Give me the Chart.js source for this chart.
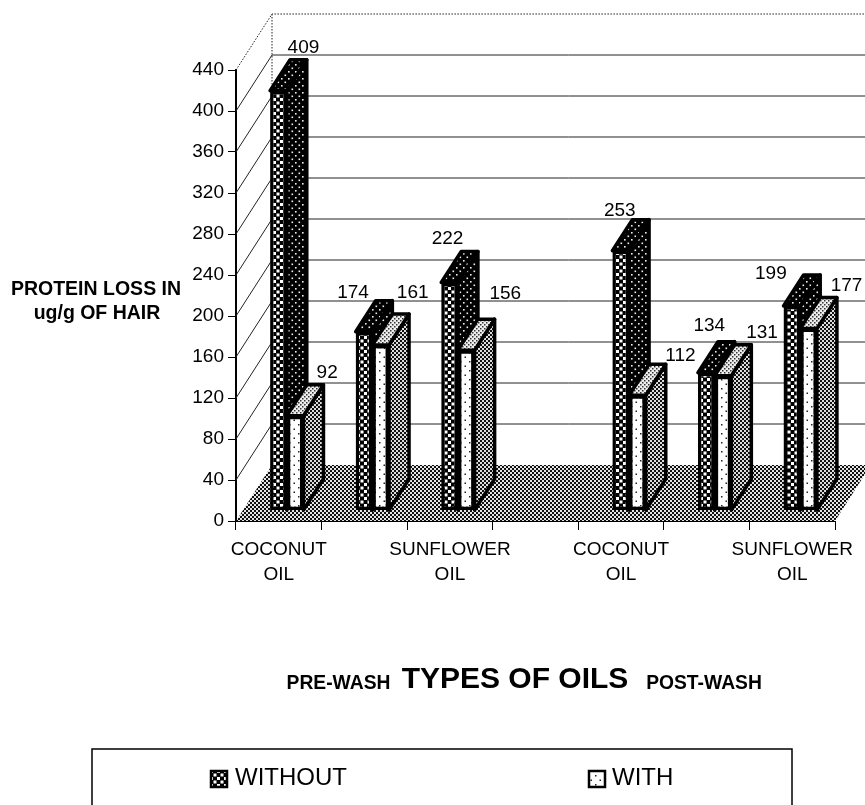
<!DOCTYPE html>
<html>
<head>
<meta charset="utf-8">
<title>Protein loss</title>
<script src="https://cdn.jsdelivr.net/npm/chart.js@4"></script>
<style>
    html, body { margin: 0; padding: 0; background: #fff; overflow: hidden; }
    canvas { display: block; }
</style>
</head>
<body>
<canvas id="grafica" width="865" height="805"></canvas>
<script>
// DATA
const categories = [["COCONUT", "OIL"], "", ["SUNFLOWER", "OIL"], "", ["COCONUT", "OIL"], "", ["SUNFLOWER", "OIL"]];
const withoutValues = [409, 174, 222, null, 253, 134, 199];
const withValues = [92, 161, 156, null, 112, 131, 177];
const yTicks = [0, 40, 80, 120, 160, 200, 240, 280, 320, 360, 400, 440];
const seriesNames = ["WITHOUT", "WITH"];

// how far each value label sits from its bar top
const withoutLabelShift = [[25, -43], [-11, -39], [-2, -44], null, [-1, -40], [3, -47], [-21, -32]];
const withLabelShift = [[32, -43], [32, -52], [39, -56], null, [43, -39], [39, -43], [38, -43]];

const FONT = '"Liberation Sans", Arial, sans-serif';
const WALL_X = 36, WALL_Y = 56;   // depth of the floor and side wall
const BAR_X = 20, BAR_Y = 31;     // depth of a bar
const BAR_SHIFT_X = 8;            // bars stand a bit back on the floor
const BAR_LIFT = 10.7;            // same thing in axis units

// small tiles for the printed patterns
function makePattern(size, bg, fg, dots) {
    const c = document.createElement('canvas');
    c.width = size; c.height = size;
    const g = c.getContext('2d');
    g.fillStyle = bg;
    g.fillRect(0, 0, size, size);
    g.fillStyle = fg;
    dots.forEach(d => g.fillRect(d[0], d[1], d[2], d[2]));
    return g.createPattern(c, 'repeat');
}

const darkFront = makePattern(7, '#000', '#fff', [[0, 0, 3], [3.5, 3.5, 3]]);
const darkSide = makePattern(7, '#000', '#eee', [[1, 1, 1.6], [4.5, 4.5, 1.6]]);
const lightFront = makePattern(9, '#fff', '#222', [[1, 1, 1.5], [5.5, 5.5, 1.5]]);
const lightTop = makePattern(4, '#eee', '#333', [[0, 0, 1.5], [2, 2, 1.5]]);
const lightSide = makePattern(4, '#ddd', '#111', [[0, 0, 2], [2, 2, 2]]);
const floorFill = makePattern(4, '#e4e4e4', '#111', [[0, 0, 2], [2, 2, 2]]);

function poly(ctx, pts, fill) {
    ctx.beginPath();
    pts.forEach((p, i) => i ? ctx.lineTo(p[0], p[1]) : ctx.moveTo(p[0], p[1]));
    ctx.closePath();
    ctx.fillStyle = fill;
    ctx.fill();
    ctx.lineWidth = 3.5;
    ctx.lineJoin = 'round';
    ctx.strokeStyle = '#000';
    ctx.stroke();
}

// PARA EL FONDO: floor, walls and back grid lines
const roomPlugin = {
    id: 'room',
    afterDatasetsUpdate(chart) {
        // the lowest order comes first on the category, so swap the pair to paint WITH on top
        chart.data.datasets.forEach((d, i) => {
            chart.getDatasetMeta(i).data.forEach(bar => {
                bar.x += BAR_SHIFT_X + (i === 0 ? -bar.width : bar.width);
            });
        });
    },
    beforeDatasetsDraw(chart) {
        const ctx = chart.ctx, y = chart.scales.y, area = chart.chartArea;
        const y0 = y.getPixelForValue(0);
        ctx.save();
        // floor
        ctx.beginPath();
        ctx.moveTo(area.left, y0);
        ctx.lineTo(area.left + WALL_X, y0 - WALL_Y);
        ctx.lineTo(area.right + WALL_X, y0 - WALL_Y);
        ctx.lineTo(area.right, y0);
        ctx.closePath();
        ctx.fillStyle = floorFill;
        ctx.fill();
        // grid lines
        ctx.lineWidth = 1;
        ctx.strokeStyle = '#222';
        yTicks.forEach(v => {
            const py = y.getPixelForValue(v);
            if (v === 0) return;
            ctx.setLineDash(v === yTicks[yTicks.length - 1] ? [1.5, 1.5] : []);
            ctx.beginPath();
            ctx.moveTo(area.left, py);
            ctx.lineTo(area.left + WALL_X, py - WALL_Y);
            ctx.lineTo(chart.width, py - WALL_Y);
            ctx.stroke();
        });
        // dotted back corner
        ctx.setLineDash([1.5, 1.5]);
        ctx.beginPath();
        ctx.moveTo(area.left + WALL_X, y.getPixelForValue(yTicks[yTicks.length - 1]) - WALL_Y);
        ctx.lineTo(area.left + WALL_X, y0 - WALL_Y);
        ctx.stroke();
        ctx.restore();
    },
    // side and top of each bar, before its front is painted
    beforeDatasetDraw(chart, args) {
        const ctx = chart.ctx;
        const isWith = args.index === 1;
        ctx.save();
        args.meta.data.forEach((bar, i) => {
            if (chart.data.datasets[args.index].data[i] === null) return;
            const l = bar.x - bar.width / 2, r = bar.x + bar.width / 2;
            poly(ctx, [[r, bar.y], [r + BAR_X, bar.y - BAR_Y], [r + BAR_X, bar.base - BAR_Y], [r, bar.base]], isWith ? lightSide : darkSide);
            poly(ctx, [[l, bar.y], [l + BAR_X, bar.y - BAR_Y], [r + BAR_X, bar.y - BAR_Y], [r, bar.y]], isWith ? lightTop : darkSide);
        });
        ctx.restore();
    },
    afterDraw(chart) {
        const ctx = chart.ctx;
        ctx.save();
        ctx.fillStyle = '#000';
        ctx.textBaseline = 'middle';

        // value labels
        ctx.textAlign = 'center';
        ctx.font = '19px ' + FONT;
        [withoutLabelShift, withLabelShift].forEach((shifts, k) => {
            chart.getDatasetMeta(k).data.forEach((bar, i) => {
                const v = chart.data.datasets[k].data[i];
                if (v === null) return;
                ctx.fillText(v, bar.x + shifts[i][0], bar.y + shifts[i][1]);
            });
        });

        // y axis title
        ctx.font = 'bold 19.5px ' + FONT;
        ctx.fillText('PROTEIN LOSS IN', 96, 290);
        ctx.fillText('ug/g OF HAIR', 97, 314);

        // x axis title
        ctx.font = 'bold 19.3px ' + FONT;
        ctx.fillText('PRE-WASH', 338.5, 684);
        ctx.fillText('POST-WASH', 704, 684);
        ctx.font = 'bold 30px ' + FONT;
        ctx.fillText('TYPES OF OILS', 515, 680);

        // legend
        ctx.strokeStyle = '#000';
        ctx.lineWidth = 1.5;
        ctx.strokeRect(92, 749, 700, 90);
        ctx.textAlign = 'left';
        ctx.font = '24px ' + FONT;
        [[210, darkFront, 235], [588, lightFront, 612]].forEach((item, k) => {
            ctx.fillStyle = item[1];
            ctx.fillRect(item[0], 770, 18, 18);
            ctx.lineWidth = 2.5;
            ctx.strokeRect(item[0] + 1, 771, 16, 16);
            ctx.fillStyle = '#000';
            ctx.fillText(seriesNames[k], item[2], 778);
        });
        ctx.restore();
    }
};

new Chart(document.getElementById('grafica'), {
    type: 'bar',
    data: {
        labels: categories,
        datasets: [
            {
                label: seriesNames[0],
                data: withoutValues,
                backgroundColor: darkFront,
                borderColor: '#000',
                borderWidth: 3.5,
                borderSkipped: false,
                yAxisID: 'yBars',
                order: 2,
                barPercentage: 1,
                categoryPercentage: 0.39
            },
            {
                label: seriesNames[1],
                data: withValues,
                backgroundColor: lightFront,
                borderColor: '#000',
                borderWidth: 3.5,
                borderSkipped: false,
                yAxisID: 'yBars',
                order: 1,
                barPercentage: 1,
                categoryPercentage: 0.39
            }
        ]
    },
    options: {
        responsive: false,
        animation: false,
        devicePixelRatio: 1,
        layout: { padding: { top: 70, right: 30, bottom: 0, left: 0 } },
        plugins: {
            legend: { display: false },
            title: { display: false },
            tooltip: { enabled: false }
        },
        scales: {
            x: {
                offset: true,
                grid: { offset: true, drawOnChartArea: false, color: '#000', tickLength: 9, tickColor: '#000' },
                border: { color: '#000', width: 1 },
                ticks: {
                    autoSkip: false,
                    maxRotation: 0,
                    color: '#000',
                    padding: 7,
                    font: { family: FONT, size: 19, lineHeight: 1.32 }
                },
                afterFit(s) { s.height = 284; s.paddingLeft = 0; s.paddingRight = 0; }
            },
            y: {
                min: 0,
                max: 440,
                afterBuildTicks(s) { s.ticks = yTicks.map(v => ({ value: v })); },
                grid: { drawOnChartArea: false, color: '#000', tickLength: 8, tickColor: '#000' },
                border: { color: '#000', width: 2, dash: [1.5, 1.5] },
                ticks: {
                    autoSkip: false,
                    color: '#000',
                    padding: 4,
                    font: { family: FONT, size: 19 }
                },
                afterFit(s) { s.width = 236; s.paddingTop = 0; s.paddingBottom = 0; }
            },
            yBars: {
                display: false,
                min: -BAR_LIFT,
                max: 440 - BAR_LIFT
            }
        }
    },
    plugins: [roomPlugin]
});
</script>
</body>
</html>
